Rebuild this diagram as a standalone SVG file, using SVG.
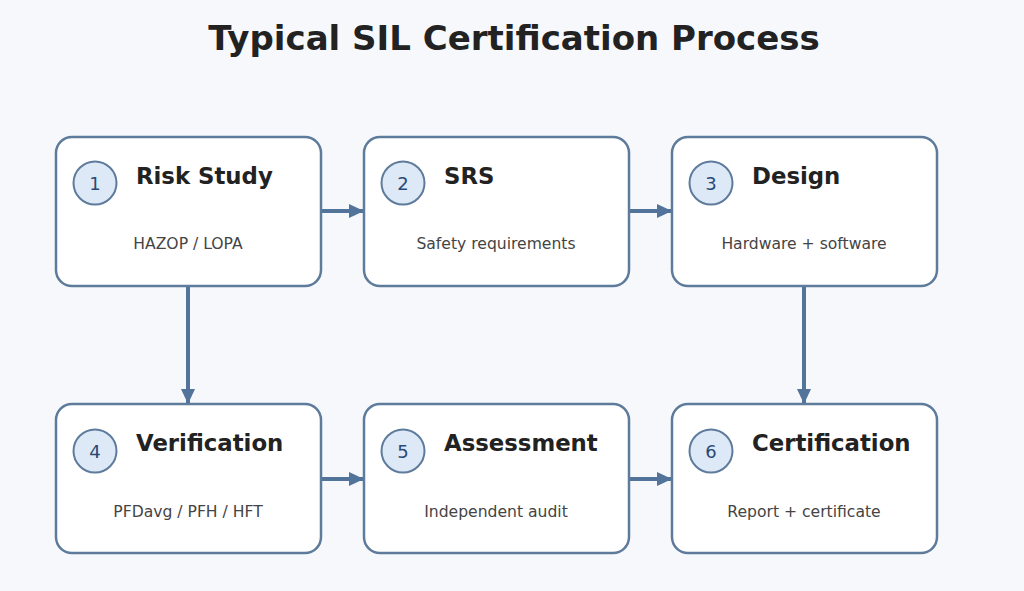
<svg xmlns="http://www.w3.org/2000/svg" width="1024" height="591" viewBox="0 0 1024 591">
<defs>
<marker id="ah" markerWidth="16" markerHeight="14" refX="15" refY="7" orient="auto" markerUnits="userSpaceOnUse">
<path d="M0,0 L15,7 L0,14 z" fill="#52739a"/>
</marker>
<style>
.box{fill:#ffffff;stroke:#5e7b9c;stroke-width:2.5}
.num{fill:#dde9f7;stroke:#5e7b9c;stroke-width:2}
.nt{font-family:"DejaVu Sans",sans-serif;font-size:18px;fill:#2a4a75;text-anchor:middle}
.hd{font-family:"DejaVu Sans",sans-serif;font-size:22.8px;font-weight:bold;fill:#222}
.sb{font-family:"DejaVu Sans",sans-serif;font-size:15.6px;fill:#444;text-anchor:middle}
.cn{stroke:#52739a;stroke-width:4;fill:none}
</style>
</defs>
<rect width="1024" height="591" fill="#f6f8fc"/>
<text x="514" y="50" font-family="DejaVu Sans, sans-serif" font-size="34" font-weight="bold" fill="#222" text-anchor="middle">Typical SIL Certification Process</text>
<g id="connectors">
<line class="cn" x1="322" y1="211" x2="364" y2="211" marker-end="url(#ah)"/>
<line class="cn" x1="630" y1="211" x2="672" y2="211" marker-end="url(#ah)"/>
<line class="cn" x1="188" y1="287" x2="188" y2="404" marker-end="url(#ah)"/>
<line class="cn" x1="804" y1="287" x2="804" y2="404" marker-end="url(#ah)"/>
<line class="cn" x1="322" y1="479" x2="364" y2="479" marker-end="url(#ah)"/>
<line class="cn" x1="630" y1="479" x2="672" y2="479" marker-end="url(#ah)"/>
</g>
<g id="node1">
<rect class="box" x="56" y="137" width="265" height="149" rx="16"/>
<circle class="num" cx="95" cy="183" r="21.5"/>
<text class="nt" x="95" y="190">1</text>
<text class="hd" x="136" y="184">Risk Study</text>
<text class="sb" x="188" y="249">HAZOP / LOPA</text>
</g>
<g id="node2">
<rect class="box" x="364" y="137" width="265" height="149" rx="16"/>
<circle class="num" cx="403" cy="183" r="21.5"/>
<text class="nt" x="403" y="190">2</text>
<text class="hd" x="444" y="184">SRS</text>
<text class="sb" x="496" y="249">Safety requirements</text>
</g>
<g id="node3">
<rect class="box" x="672" y="137" width="265" height="149" rx="16"/>
<circle class="num" cx="711" cy="183" r="21.5"/>
<text class="nt" x="711" y="190">3</text>
<text class="hd" x="752" y="184">Design</text>
<text class="sb" x="804" y="249">Hardware + software</text>
</g>
<g id="node4">
<rect class="box" x="56" y="404" width="265" height="149" rx="16"/>
<circle class="num" cx="95" cy="451" r="21.5"/>
<text class="nt" x="95" y="458">4</text>
<text class="hd" x="136" y="451">Verification</text>
<text class="sb" x="188" y="517">PFDavg / PFH / HFT</text>
</g>
<g id="node5">
<rect class="box" x="364" y="404" width="265" height="149" rx="16"/>
<circle class="num" cx="403" cy="451" r="21.5"/>
<text class="nt" x="403" y="458">5</text>
<text class="hd" x="444" y="451">Assessment</text>
<text class="sb" x="496" y="517">Independent audit</text>
</g>
<g id="node6">
<rect class="box" x="672" y="404" width="265" height="149" rx="16"/>
<circle class="num" cx="711" cy="451" r="21.5"/>
<text class="nt" x="711" y="458">6</text>
<text class="hd" x="752" y="451">Certification</text>
<text class="sb" x="804" y="517">Report + certificate</text>
</g>
</svg>
